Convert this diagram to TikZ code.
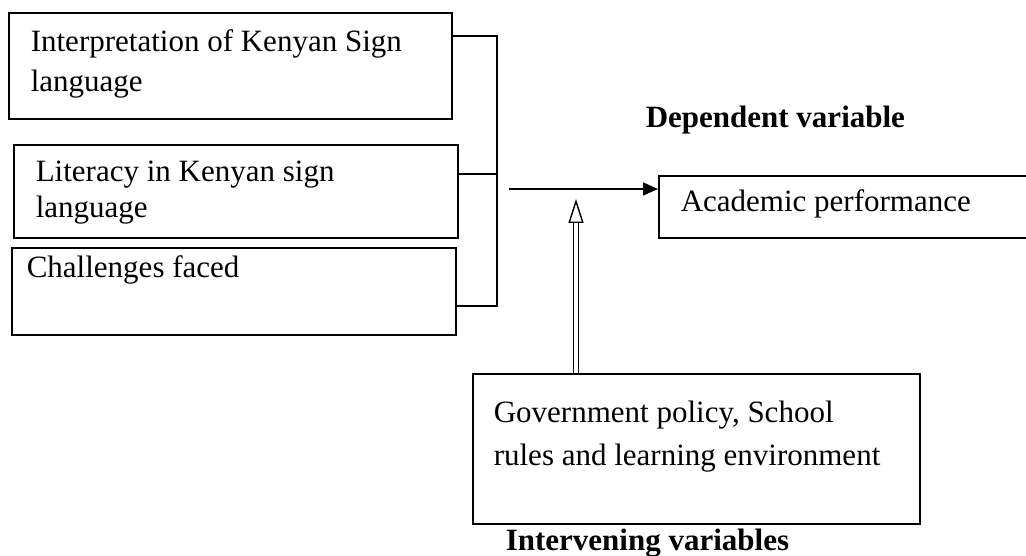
\documentclass[tikz,border=0pt]{standalone}
\usepackage{fontspec}
\setmainfont{Liberation Serif}
\usetikzlibrary{positioning,arrows.meta,shadows}

\begin{document}
\begin{tikzpicture}[x=1pt, y=-1pt, line width=1.6pt,
                    box/.style={draw, rectangle, anchor=north west, inner sep=0pt},
                    txt/.style={anchor=base west, inner sep=0pt, align=left,
                                font=\fontsize{31}{40}\selectfont},
                    heading/.style={txt, font=\fontsize{31}{40}\selectfont\bfseries},
                    hollow/.style={double, double distance=4pt, line width=1.4pt,
                                   -{Triangle[open, length=24pt, width=15pt]}}]
\useasboundingbox (0,0) rectangle (1026,556);
% independent variables
\node[box, minimum width=443pt, minimum height=106pt] (interp) at (8,12) {};
\node[box, minimum width=444pt, minimum height=93pt] (literacy) at (13,144) {};
\node[box, minimum width=444pt, minimum height=87pt] (challenge) at (11,247) {};
\node[txt] (interptxt) at (30,92) {Interpretation of Kenyan Sign\\language};
\node[txt, font=\fontsize{31}{36}\selectfont] (literacytxt) at (35,218) {Literacy in Kenyan sign\\language};
\node[txt] (challengetxt) at (26,277) {Challenges faced};
% dependent variable
\node[heading] (dephead) at (645,128) {Dependent variable};
\node[box, minimum width=380pt, minimum height=62pt] (perf) at (658,175) {};
\node[txt] (perftxt) at (680,212) {Academic performance};
% intervening variables
\node[box, minimum width=447pt, minimum height=150pt, fill=white,
      drop shadow={shadow xshift=1.5pt, shadow yshift=-1.5pt, opacity=0.35}] (gov) at (472,373) {};
\node[txt, font=\fontsize{31}{43}\selectfont] (govtxt) at (493,465) {Government policy, School\\rules and learning environment};
\node[heading] (inthead) at (505,550) {Intervening variables};
% connectors
\coordinate (brtop) at (497,36);
\coordinate (brmid) at (497,174);
\coordinate (brbot) at (497,306);
\coordinate (start) at (509,189);
\coordinate (tip) at (576,199);
\draw (interp.east |- brtop) -- (brtop) -- (brbot) -- (challenge.east |- brbot);
\draw (literacy.east |- brmid) -- (brmid);
\draw[-{Triangle[length=15pt, width=13pt]}] (start) -- (perf.west |- start);
\draw[hollow] (gov.north -| tip) -- (tip);
\end{tikzpicture}
\end{document}
